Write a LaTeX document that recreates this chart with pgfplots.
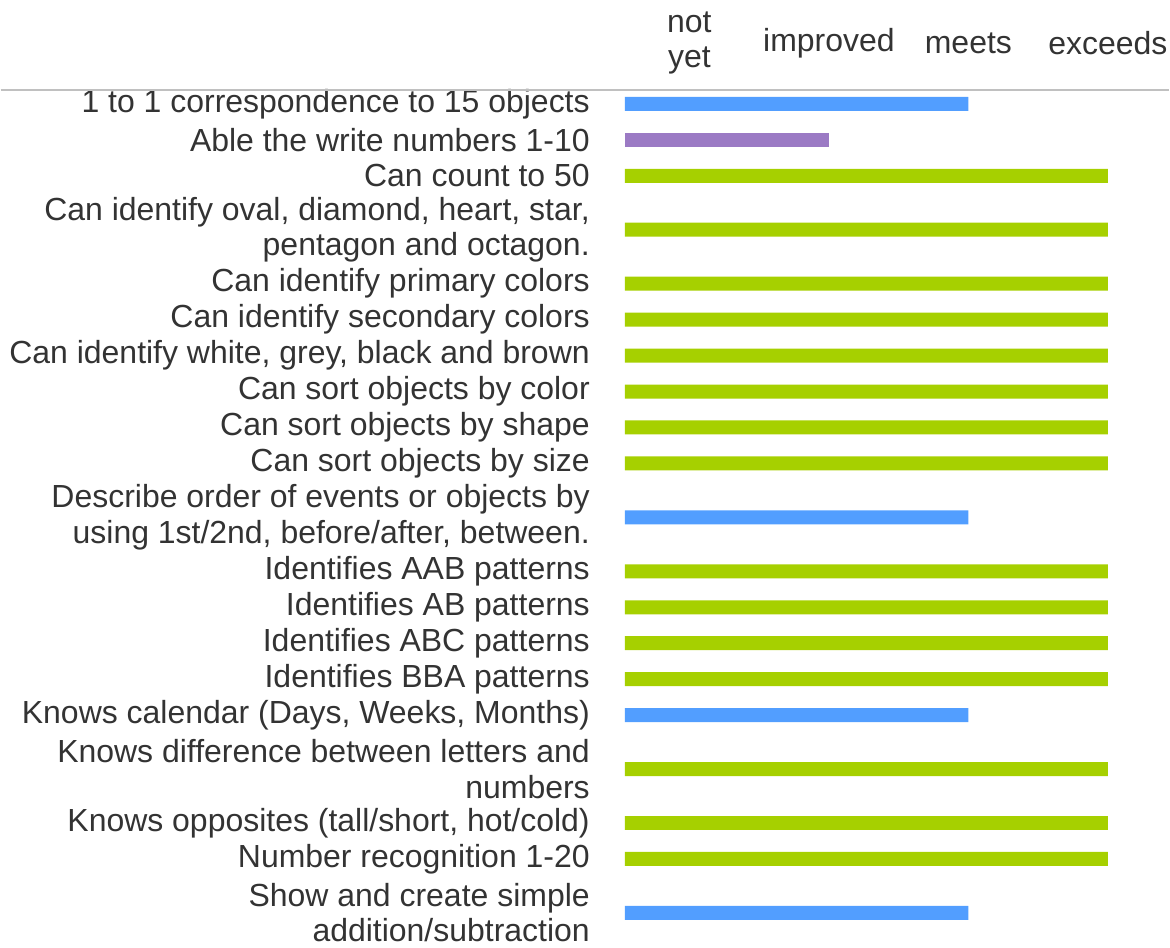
\documentclass[border=0pt]{standalone}
\usepackage{pgfplots}
\pgfplotsset{compat=1.18}
\usepackage{pgfplotstable}
\usepackage{fontspec}
\setmainfont{Liberation Sans}

\definecolor{barblue}{RGB}{82,158,255}
\definecolor{barpurple}{RGB}{155,122,196}
\definecolor{bargreen}{RGB}{166,208,0}
\definecolor{textgray}{RGB}{51,51,51}
\definecolor{rulegray}{RGB}{192,192,192}

% pos = row position (two-line rows take more room), level: 0 not yet, 1 improved, 2 meets, 3 exceeds
\pgfplotstableread{
pos level
0 2
11.5 2
17 2
22.5 2
}\meets
\pgfplotstableread{
pos level
1 1
}\improved
\pgfplotstableread{
pos level
2 3
3.5 3
5 3
6 3
7 3
8 3
9 3
10 3
13 3
14 3
15 3
16 3
18.5 3
20 3
21 3
}\exceeds

\begin{document}
\begin{tikzpicture}
	\begin{axis}[
		scale only axis,
		width = 408.75pt,
		height = 641.25pt,
		xbar,
		bar width = 10.5pt,
		bar shift = 0pt,
		xmin = 0, xmax = 3.902,
		y dir = reverse,
		ymin = -0.389, ymax = 23.36,
		axis line style = {draw=none},
		major tick length = 0pt,
		xticklabel pos = upper,
		xtick = {0.462,1.462,2.462,3.462},
		xticklabels = {{not\\yet}, improved, meets, exceeds},
		xticklabel style = {align=center, anchor=center, inner sep=0pt, yshift=35pt},
		ytick = {0,1,2,3.5,5,6,7,8,9,10,11.5,13,14,15,16,17,18.5,20,21,22.5},
		yticklabels = {
			{1 to 1 correspondence to 15 objects},
			{Able the write numbers 1-10},
			{Can count to 50},
			{Can identify oval, diamond, heart, star,\\pentagon and octagon.},
			{Can identify primary colors},
			{Can identify secondary colors},
			{Can identify white, grey, black and brown},
			{Can sort objects by color},
			{Can sort objects by shape},
			{Can sort objects by size},
			{Describe order of events or objects by\\using 1st/2nd, before/after, between.},
			{Identifies AAB patterns},
			{Identifies AB patterns},
			{Identifies ABC patterns},
			{Identifies BBA patterns},
			{Knows calendar (Days, Weeks, Months)},
			{Knows difference between letters and\\numbers},
			{Knows opposites (tall/short, hot/cold)},
			{Number recognition 1-20},
			{Show and create simple\\addition/subtraction},
		},
		yticklabel style = {align=right, anchor=east, inner sep=0pt, xshift=-26.25pt},
		every tick label/.append style = {text=textgray, font=\fontsize{24}{26.5}\selectfont},
		clip = false,
		]

		\addplot[draw=none, fill=barblue] table[x expr=\thisrow{level}+0.462, y=pos] {\meets};
		\addplot[draw=none, fill=barpurple] table[x expr=\thisrow{level}+0.462, y=pos] {\improved};
		\addplot[draw=none, fill=bargreen] table[x expr=\thisrow{level}+0.462, y=pos] {\exceeds};

		\draw[rulegray, line width=1.1pt] (axis description cs:-1.1468,1) -- (axis description cs:1,1);
		\path (axis description cs:-1.1468,1.10526) rectangle (axis description cs:1,-0.004);
	\end{axis}
\end{tikzpicture}
\end{document}
